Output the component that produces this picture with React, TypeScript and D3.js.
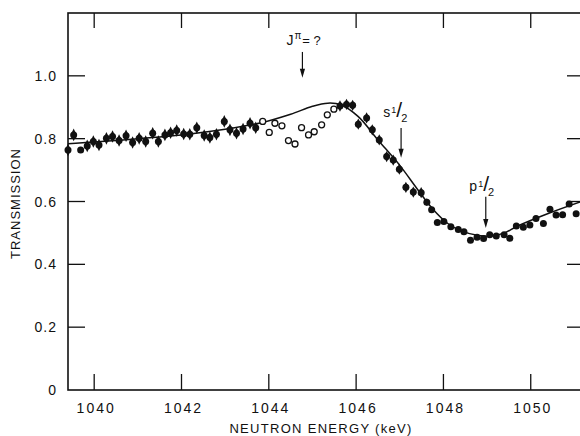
import React from 'react';
import * as d3 from 'd3';

// filled points (neutron energy keV, transmission, error)
const energy = [
  1039.40, 1039.53, 1039.69, 1039.84, 1039.98, 1040.11, 1040.28, 1040.42, 1040.57, 1040.73,
  1040.88, 1041.03, 1041.18, 1041.34, 1041.47, 1041.62, 1041.75, 1041.89, 1042.05, 1042.19,
  1042.35, 1042.52, 1042.65, 1042.80, 1042.98, 1043.11, 1043.26, 1043.41, 1043.57, 1043.70,
  1045.63, 1045.78, 1045.92, 1046.05, 1046.24, 1046.37, 1046.53, 1046.70, 1046.85, 1046.99,
  1047.14, 1047.31, 1047.49, 1047.62, 1047.73, 1047.86, 1048.01, 1048.17, 1048.34, 1048.47,
  1048.62, 1048.77, 1048.92, 1049.06, 1049.21, 1049.39, 1049.52, 1049.67, 1049.83, 1049.98,
  1050.12, 1050.29, 1050.44, 1050.58, 1050.73, 1050.88, 1051.04,
];
const transmission = [
  0.764, 0.812, 0.764, 0.777, 0.791, 0.780, 0.801, 0.807, 0.794, 0.809,
  0.788, 0.801, 0.791, 0.817, 0.791, 0.812, 0.819, 0.826, 0.815, 0.814,
  0.835, 0.810, 0.804, 0.814, 0.855, 0.828, 0.817, 0.831, 0.849, 0.835,
  0.904, 0.909, 0.906, 0.846, 0.866, 0.828, 0.796, 0.743, 0.732, 0.703,
  0.645, 0.630, 0.628, 0.598, 0.574, 0.533, 0.536, 0.520, 0.511, 0.504,
  0.477, 0.486, 0.482, 0.494, 0.490, 0.494, 0.483, 0.522, 0.518, 0.525,
  0.546, 0.530, 0.575, 0.557, 0.558, 0.592, 0.561,
];
const errors = [
  0.02, 0.02, 0.01, 0.02, 0.02, 0.02, 0.02, 0.02, 0.02, 0.02,
  0.02, 0.02, 0.02, 0.02, 0.02, 0.02, 0.02, 0.02, 0.02, 0.02,
  0.02, 0.02, 0.02, 0.02, 0.02, 0.02, 0.02, 0.02, 0.02, 0.02,
  0.018, 0.018, 0.018, 0.018, 0.018, 0.018, 0.018, 0.018, 0.018, 0.018,
  0.018, 0.018, 0.018, 0.012, 0.01, 0.008, 0.008, 0.008, 0.008, 0.008,
  0.008, 0.008, 0.008, 0.008, 0.008, 0.008, 0.008, 0.008, 0.008, 0.008,
  0.008, 0.008, 0.008, 0.008, 0.008, 0.008, 0.008,
];

// open circles (J^pi = ? resonance region)
const openEnergy = [1043.86, 1044.01, 1044.14, 1044.30, 1044.45, 1044.60, 1044.75, 1044.91, 1045.04, 1045.21, 1045.34, 1045.49];
const openTransmission = [0.855, 0.820, 0.849, 0.841, 0.794, 0.783, 0.835, 0.812, 0.822, 0.844, 0.876, 0.894];

// fitted curve
const fitEnergy = [
  1039.4, 1040.0, 1041.0, 1042.0, 1043.0, 1043.8, 1044.5, 1045.0, 1045.35, 1045.65,
  1046.05, 1046.5, 1047.0, 1047.4, 1047.75, 1048.1, 1048.45, 1048.8, 1049.1, 1049.4,
  1049.7, 1050.4, 1051.2,
];
const fitTransmission = [
  0.784, 0.789, 0.800, 0.812, 0.830, 0.850, 0.878, 0.903, 0.913, 0.908,
  0.870, 0.796, 0.715, 0.640, 0.577, 0.530, 0.504, 0.492, 0.490, 0.500,
  0.522, 0.562, 0.602,
];

const xTicks = [1040, 1042, 1044, 1046, 1048, 1050];
const yTicks = [0, 0.2, 0.4, 0.6, 0.8, 1.0];
const yTickLabels = ['0', '0.2', '0.4', '0.6', '0.8', '1.0'];

const W = 580;
const H = 436;
const margin = { left: 68, top: 13, right: -4, bottom: 46 };
const FONT = "'Liberation Sans', Arial, Helvetica, sans-serif";

const App = () => {
  const x = d3.scaleLinear().domain([1039.4, 1051.22]).range([margin.left, W - margin.right]);
  const y = d3.scaleLinear().domain([0, 1.2]).range([H - margin.bottom, margin.top]);

  const x0 = x.range()[0];
  const x1 = x.range()[1];
  const y0 = y.range()[0];
  const y1 = y.range()[1];

  const fitLine = d3.line<number>()
    .x((_, i) => x(fitEnergy[i]))
    .y((d) => y(d))
    .curve(d3.curveCatmullRom);

  // "s 1/2" style label with a tall slash
  const fracLabel = (ex: number, ey: number, letter: string) => (
    <text x={x(ex) - 16} y={y(ey)} fontFamily={FONT} fontSize={14} fill="#111">
      <tspan>{letter}</tspan>
      <tspan fontSize={9} dy={-4} dx={1}>1</tspan>
      <tspan fontSize={21} dy={4} dx={0}>/</tspan>
      <tspan fontSize={11} dy={5} dx={-1}>2</tspan>
    </text>
  );

  const arrow = (ex: number, top: number, tip: number) => {
    const ax = x(ex);
    const yt = y(top);
    const yp = y(tip);
    return (
      <g>
        <line x1={ax} x2={ax} y1={yt} y2={yp - 7} stroke="#111" strokeWidth={1.2} />
        <path d={`M${ax - 2.6},${yp - 9} L${ax + 2.6},${yp - 9} L${ax},${yp} Z`} fill="#111" />
      </g>
    );
  };

  return (
    <svg width={W} height={H} style={{ position: 'absolute', left: 0, top: 0, background: '#fff' }}>
      {/* frame */}
      <rect x={x0} y={y1} width={x1 - x0} height={y0 - y1} fill="none" stroke="#111" strokeWidth={1.6} />

      {/* x ticks (bottom and top, inward) */}
      {xTicks.map((t) => (
        <g key={'xt' + t}>
          <line x1={x(t)} x2={x(t)} y1={y0} y2={y0 - 16} stroke="#111" strokeWidth={1.3} />
          <line x1={x(t)} x2={x(t)} y1={y1} y2={y1 + 15} stroke="#111" strokeWidth={1.3} />
          <text x={x(t) + 2} y={y0 + 23} textAnchor="middle" fontFamily={FONT} fontSize={14}
            letterSpacing={2} fill="#111">{t}</text>
        </g>
      ))}

      {/* y ticks (left and right, inward) */}
      {yTicks.map((t, i) => (
        <g key={'yt' + t}>
          {t > 0 && <line x1={x0} x2={x0 + 17} y1={y(t)} y2={y(t)} stroke="#111" strokeWidth={1.3} />}
          {t > 0 && <line x1={x1} x2={x1 - 17} y1={y(t)} y2={y(t)} stroke="#111" strokeWidth={1.3} />}
          <text x={57} y={y(t) + 5} textAnchor="end" fontFamily={FONT} fontSize={14}
            letterSpacing={1} fill="#111">{yTickLabels[i]}</text>
        </g>
      ))}

      {/* axis titles */}
      <text x={321} y={433} textAnchor="middle" fontFamily={FONT} fontSize={13}
        letterSpacing={1.3} fill="#111">NEUTRON ENERGY (keV)</text>
      <text transform={`translate(20,${(y0 + y1) / 2 + 2}) rotate(-90)`} textAnchor="middle"
        fontFamily={FONT} fontSize={13} letterSpacing={1} fill="#111">TRANSMISSION</text>

      {/* fitted curve */}
      <path d={fitLine(fitTransmission) || ''} fill="none" stroke="#111" strokeWidth={1.5} />

      {/* filled points with error bars */}
      {transmission.map((t, i) => {
        const cx = x(energy[i]);
        const cy = y(t);
        const h = y(t - errors[i]) - cy;
        return (
          <g key={'p' + i}>
            <path d={`M${cx},${cy - h} L${cx + 3},${cy} L${cx},${cy + h} L${cx - 3},${cy} Z`} fill="#111" />
            <circle cx={cx} cy={cy} r={3.5} fill="#111" />
          </g>
        );
      })}

      {/* open points */}
      {openTransmission.map((t, i) => (
        <circle key={'o' + i} cx={x(openEnergy[i])} cy={y(t)} r={3} fill="#fff" stroke="#111" strokeWidth={1.3} />
      ))}

      {/* annotations */}
      <text x={x(1044.77) - 16} y={y(1.099)} fontFamily={FONT} fontSize={14} fill="#111">
        <tspan>J</tspan>
        <tspan fontSize={10} dy={-6} dx={1}>π</tspan>
        <tspan fontSize={13} dy={6} dx={1}>= ?</tspan>
      </text>
      {arrow(1044.77, 1.076, 0.994)}

      {fracLabel(1046.99, 0.868, 's')}
      {arrow(1047.03, 0.834, 0.739)}

      {fracLabel(1048.96, 0.633, 'p')}
      {arrow(1048.97, 0.615, 0.516)}
    </svg>
  );
};

export default App;
